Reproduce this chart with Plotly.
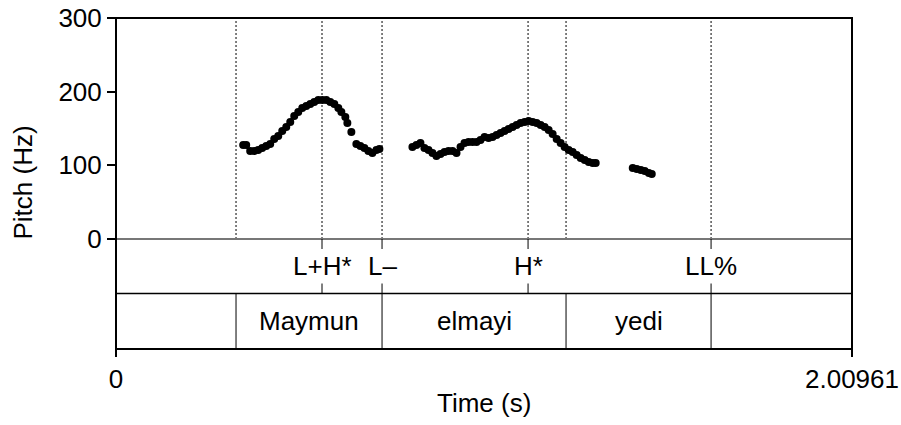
import plotly.graph_objects as go

# ---------------- data ----------------
t_end = 2.00961

seg1_t = [0.3473, 0.3555, 0.3664, 0.3774, 0.3883, 0.3992, 0.4102, 0.4211, 0.4320, 0.4430,
          0.4539, 0.4649, 0.4758, 0.4867, 0.4977, 0.5086, 0.5196, 0.5305, 0.5414, 0.5524,
          0.5633, 0.5742, 0.5852, 0.5961, 0.6071, 0.6153, 0.6262, 0.6317, 0.6426, 0.6563,
          0.6672, 0.6782, 0.6891, 0.7000, 0.7110, 0.7192]
seg1_hz = [127.6, 127.6, 119.5, 119.5, 120.8, 123.5, 126.2, 129.0, 135.8, 139.8,
           146.6, 152.0, 158.8, 167.0, 172.4, 177.8, 180.5, 183.3, 186.0, 188.7,
           188.7, 188.7, 186.0, 183.3, 177.8, 172.4, 165.6, 157.5, 145.3, 129.0,
           126.2, 123.5, 119.5, 116.7, 120.8, 122.2]

seg2_t = [0.8094, 0.8203, 0.8313, 0.8422, 0.8532, 0.8641, 0.8750, 0.8860, 0.8969, 0.9079,
          0.9188, 0.9297, 0.9407, 0.9516, 0.9625, 0.9735, 0.9844, 0.9953, 1.0063, 1.0172,
          1.0282, 1.0391, 1.0500, 1.0610, 1.0719, 1.0829, 1.0938, 1.1047, 1.1157, 1.1266,
          1.1375, 1.1485, 1.1594, 1.1704, 1.1813, 1.1922, 1.2032, 1.2141, 1.2250, 1.2360,
          1.2469, 1.2578, 1.2688, 1.2797, 1.2907, 1.3016, 1.3098]
seg2_hz = [124.9, 127.6, 130.3, 123.5, 120.8, 116.7, 112.7, 115.4, 118.1, 119.5,
           119.5, 116.7, 124.9, 130.3, 131.7, 131.7, 131.7, 134.4, 138.5, 137.1,
           138.5, 141.2, 143.9, 146.6, 149.3, 152.0, 154.8, 157.5, 158.8, 160.2,
           158.8, 157.5, 154.8, 152.0, 148.0, 142.5, 135.8, 130.3, 124.9, 120.8,
           118.1, 114.0, 110.0, 107.2, 104.5, 103.2, 103.2]

seg3_t = [1.4110, 1.4219, 1.4329, 1.4438, 1.4548, 1.4629]
seg3_hz = [96.4, 95.0, 93.7, 92.3, 89.6, 88.2]

tone_times = [0.5625, 0.7264, 1.1251, 1.6248]
tone_labels = ["L+H*", "L\u2013", "H*", "LL%"]

word_bounds = [0.3277, 0.7264, 1.2288, 1.6248]
words = ["Maymun", "elmayi", "yedi"]

y_ticks = [0, 100, 200, 300]
x_ticks = [0, t_end]
x_ticktext = ["0", "2.00961"]

# ---------------- layout geometry ----------------
W, H = 901, 425
ML, MR, MT, MB = 116, 49, 18, 76
PH = H - MT - MB            # plot height in px
def py(pix):                # pixel row -> paper y
    return (H - MB - pix) / PH

pitch_bottom = py(239)
tier_sep = py(293.5)
tick_len = 10 / PH
FONT = "Liberation Sans, Arial, Helvetica, sans-serif"
FS = 26

fig = go.Figure()
all_t = seg1_t + seg2_t + seg3_t
all_hz = seg1_hz + seg2_hz + seg3_hz
fig.add_trace(go.Scatter(x=all_t, y=all_hz, mode="markers",
                         marker=dict(color="black", size=8, line=dict(width=0)),
                         showlegend=False, hoverinfo="skip"))

shapes = []
# dotted verticals in pitch area
for t in sorted(set(tone_times + word_bounds)):
    shapes.append(dict(type="line", xref="x", yref="paper", x0=t, x1=t,
                       y0=pitch_bottom, y1=1,
                       line=dict(color="black", width=1, dash="2px,2px")))
# zero line
shapes.append(dict(type="line", xref="paper", yref="paper", x0=0, x1=1,
                   y0=pitch_bottom, y1=pitch_bottom,
                   line=dict(color="#777777", width=2)))
# tier separator
shapes.append(dict(type="line", xref="paper", yref="paper", x0=0, x1=1,
                   y0=tier_sep, y1=tier_sep,
                   line=dict(color="black", width=1.5)))
# tone ticks
for t in tone_times:
    shapes.append(dict(type="line", xref="x", yref="paper", x0=t, x1=t,
                       y0=pitch_bottom, y1=pitch_bottom - tick_len,
                       line=dict(color="black", width=1)))
    shapes.append(dict(type="line", xref="x", yref="paper", x0=t, x1=t,
                       y0=tier_sep, y1=tier_sep + tick_len,
                       line=dict(color="black", width=1)))
# word boundaries
for t in word_bounds:
    shapes.append(dict(type="line", xref="x", yref="paper", x0=t, x1=t,
                       y0=0, y1=tier_sep,
                       line=dict(color="black", width=1)))
# outer box
shapes.append(dict(type="rect", xref="paper", yref="paper", x0=0, x1=1, y0=0, y1=1,
                   line=dict(color="black", width=2)))

annotations = []
for t, lab in zip(tone_times, tone_labels):
    annotations.append(dict(x=t, y=(pitch_bottom + tier_sep) / 2, xref="x", yref="paper",
                            text=lab, showarrow=False, xanchor="center", yanchor="middle",
                            font=dict(family=FONT, size=FS, color="black")))
for i, w in enumerate(words):
    annotations.append(dict(x=(word_bounds[i] + word_bounds[i + 1]) / 2, y=tier_sep / 2,
                            xref="x", yref="paper", text=w, showarrow=False,
                            xanchor="center", yanchor="middle",
                            font=dict(family=FONT, size=FS, color="black")))
annotations.append(dict(x=0.5, y=py(403), xref="paper", yref="paper", text="Time (s)",
                        showarrow=False, xanchor="center", yanchor="middle",
                        font=dict(family=FONT, size=FS, color="black")))
annotations.append(dict(x=(22.5 - ML) / (W - ML - MR), y=py(183), xref="paper", yref="paper",
                        text="Pitch (Hz)", textangle=-90, showarrow=False,
                        xanchor="center", yanchor="middle",
                        font=dict(family=FONT, size=FS, color="black")))

fig.update_layout(
    template="none",
    width=W, height=H,
    margin=dict(l=ML, r=MR, t=MT, b=MB, pad=0, autoexpand=False),
    paper_bgcolor="white", plot_bgcolor="white",
    shapes=shapes, annotations=annotations,
    xaxis=dict(range=[0, t_end], anchor="free", position=0, automargin=False,
               tickvals=x_ticks, ticktext=x_ticktext, ticks="outside", ticklen=7,
               tickwidth=2, tickcolor="black", showgrid=False, zeroline=False,
               showline=False, ticklabelstandoff=0,
               tickfont=dict(family=FONT, size=FS, color="black")),
    yaxis=dict(range=[0, 300], domain=[pitch_bottom, 1], automargin=False,
               tickvals=y_ticks, ticks="outside", ticklen=8, tickwidth=2,
               tickcolor="black", showgrid=False, zeroline=False, showline=False,
               ticklabelstandoff=0,
               tickfont=dict(family=FONT, size=FS, color="black")),
)

fig.write_html("out.html")
